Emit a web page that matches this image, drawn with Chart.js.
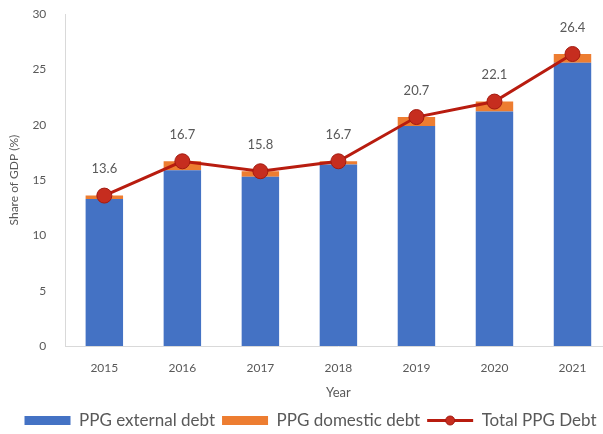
<!DOCTYPE html>
<html>
<head>
<meta charset="utf-8">
<script src="https://cdn.jsdelivr.net/npm/chart.js@4.4.0/dist/chart.umd.min.js"></script>
<style>
  html, body { margin: 0; padding: 0; background: #fff; overflow: hidden; }
  body { width: 603px; height: 434px; position: relative; }
  #wrap { position: absolute; left: 0; top: -4px; width: 620px; height: 443px; }
</style>
</head>
<body>
<div id="wrap"><canvas id="debtChart"></canvas></div>
<script>
const years = ['2015', '2016', '2017', '2018', '2019', '2020', '2021'];
const externalDebt = [13.3, 15.9, 15.3, 16.4, 19.9, 21.2, 25.6];
const domesticDebt = [0.3, 0.8, 0.5, 0.3, 0.8, 0.9, 0.8];
const totalDebt = [13.6, 16.7, 15.8, 16.7, 20.7, 22.1, 26.4];
const yTicks = [0, 5, 10, 15, 20, 25, 30];

const textGrey = '#595959';
const fontFamily = 'Lato, "Open Sans", sans-serif';
const lineRed = '#b81c0f';
const dotRed = '#c62d1f';

// value labels above each total point
const pointLabels = {
    id: 'pointLabels',
    afterDatasetsDraw(chart) {
        const c = chart.ctx;
        const meta = chart.getDatasetMeta(0);
        c.save();
        c.font = '13px ' + fontFamily;
        c.fillStyle = textGrey;
        c.textAlign = 'center';
        c.textBaseline = 'bottom';
        meta.data.forEach((pt, i) => {
            c.fillText(totalDebt[i].toFixed(1), pt.x, pt.y - 20);
        });
        c.restore();
    }
};

// line-with-dot symbol for the total series in the legend
const legendMarker = {
    id: 'legendMarker',
    afterDraw(chart) {
        const lg = chart.legend;
        if (!lg || !lg.legendHitBoxes) return;
        const idx = lg.legendItems.findIndex(it => it.datasetIndex === 0);
        const box = lg.legendHitBoxes[idx];
        const bw = lg.options.labels.boxWidth;
        const c = chart.ctx;
        const y = box.top + box.height / 2;
        c.save();
        c.fillStyle = '#fff';
        c.fillRect(box.left - 4, y - 8, bw + 8, 16);
        c.strokeStyle = lineRed;
        c.lineWidth = 3;
        c.beginPath();
        c.moveTo(box.left, y);
        c.lineTo(box.left + bw, y);
        c.stroke();
        c.fillStyle = dotRed;
        c.strokeStyle = '#a31a10';
        c.lineWidth = 1;
        c.beginPath();
        c.arc(box.left + bw / 2, y, 4.5, 0, Math.PI * 2);
        c.fill();
        c.stroke();
        c.restore();
    }
};

new Chart(document.getElementById('debtChart'), {
    data: {
        labels: years,
        datasets: [
            {
                type: 'line',
                label: 'Total PPG Debt',
                data: totalDebt,
                borderColor: lineRed,
                backgroundColor: lineRed,
                borderWidth: 3,
                pointRadius: 7.5,
                pointBackgroundColor: dotRed,
                pointBorderColor: '#a31a10',
                pointBorderWidth: 1,
                tension: 0,
                order: 0
            },
            {
                type: 'bar',
                label: 'PPG external debt',
                data: externalDebt,
                backgroundColor: '#4472c4',
                stack: 'debt',
                barPercentage: 0.48,
                categoryPercentage: 1,
                order: 1
            },
            {
                type: 'bar',
                label: 'PPG domestic debt',
                data: domesticDebt,
                backgroundColor: '#ed7d31',
                stack: 'debt',
                barPercentage: 0.48,
                categoryPercentage: 1,
                order: 1
            }
        ]
    },
    options: {
        responsive: true,
        maintainAspectRatio: false,
        animation: false,
        layout: { padding: { top: 0, right: 6, left: 7, bottom: 0 } },
        scales: {
            x: {
                stacked: true,
                grid: { display: false },
                border: { color: '#d9d9d9' },
                ticks: { color: textGrey, font: { family: fontFamily, size: 12 }, padding: 7 },
                title: { display: true, text: 'Year', color: textGrey, font: { family: fontFamily, size: 13 }, padding: { top: 3, bottom: 4 } }
            },
            y: {
                stacked: true,
                min: 0,
                max: 30,
                afterBuildTicks(axis) {
                    axis.ticks = yTicks.map(v => ({ value: v }));
                },
                grid: { display: false },
                border: { color: '#d9d9d9' },
                ticks: { color: textGrey, font: { family: fontFamily, size: 12 }, padding: 11 },
                title: { display: true, text: 'Share of GDP (%)', color: textGrey, font: { family: fontFamily, size: 12 }, padding: 0 }
            }
        },
        plugins: {
            legend: {
                position: 'bottom',
                labels: {
                    color: textGrey,
                    font: { family: fontFamily, size: 17 },
                    boxWidth: 46,
                    boxHeight: 9,
                    padding: 7,
                    sort: (a, b) => [1, 2, 0].indexOf(a.datasetIndex) - [1, 2, 0].indexOf(b.datasetIndex)
                }
            },
            tooltip: { enabled: false }
        }
    },
    plugins: [pointLabels, legendMarker]
});
</script>
</body>
</html>
